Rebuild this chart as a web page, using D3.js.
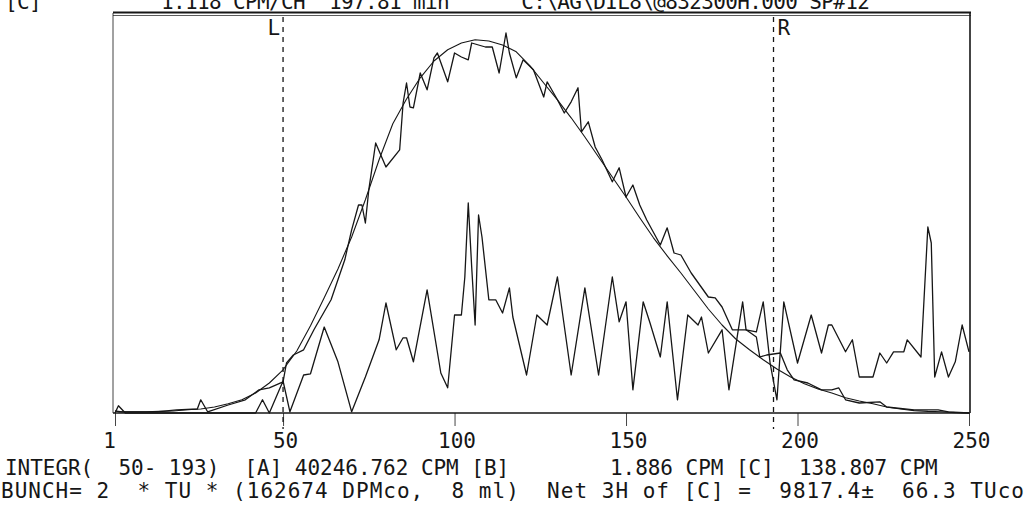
<!DOCTYPE html>
<html><head><meta charset="utf-8">
<script src="https://cdn.jsdelivr.net/npm/d3@7"></script>
<style>html,body{margin:0;padding:0;background:#fff;overflow:hidden}</style>
</head><body><svg id="c" width="1024" height="507"></svg>
<script>
// ---------------- DATA ----------------
const tickChannels = [1, 50, 100, 150, 200, 250];
const tickLabels = ["1", "50", "100", "150", "200", "250"];
const markerChannels = [50, 193];
const markerLabels = ["L", "R"];

const headerText = "[C]          1.118 CPM/CH  197.81 min      C:\\AG\\DIL8\\@832300H.000 SP#12";
const integrText = "INTEGR(  50- 193)  [A] 40246.762 CPM [B]        1.886 CPM [C]  138.807 CPM";
const bunchText  = "BUNCH= 2  * TU * (162674 DPMco,  8 ml)  Net 3H of [C] =  9817.4±  66.3 TUco";

// smooth fitted curve
const fitChannels = [2,6,10,14,18,22,26,30,34,38,42,46,50,54,58,62,66,70,74,78,82,86,90,94,98,102,106,110,114,118,122,126,130,134,138,142,146,150,154,158,162,166,170,174,178,182,186,190,194,198,202,206,210,214,218,222,226,230,234,238,242,246,250];
const fitValues   = [3,3,3,4,5,8,10,15,23,33,50,75,108,155,218,288,360,440,533,633,723,785,838,880,908,925,933,930,920,903,868,825,783,738,690,640,590,540,488,438,393,350,305,260,220,185,158,133,110,90,73,60,50,38,30,23,15,10,6,4,3,1,0];

// measured (noisy) spectrum
const dataChannels = [1,3,13,19,25,26,28,34,36,39,43,46,50,51,53,56,59,64,68,70,72,73,74,75,77,80,84,85,86,87,88,90,92,94,95,98,100,102,104,105,109,111,113,114,115,116,118,120,123,126,127,130,132,134,136,137,139,141,143,146,148,150,152,154,156,160,162,164,166,169,174,176,178,181,185,188,189,191,195,197,199,203,207,210,212,214,218,224,226,234,241,244,250];
const dataValues   = [5,3,3,8,10,33,3,20,25,33,58,63,78,125,145,158,208,283,383,458,520,520,475,558,675,615,658,775,825,765,763,850,808,888,900,828,900,890,883,925,915,915,850,900,950,900,838,883,858,790,828,783,750,778,813,703,728,665,633,578,613,540,570,520,483,420,463,400,395,350,290,288,265,208,208,190,140,145,150,108,83,75,58,58,63,33,25,28,15,8,8,3,0];

// lower fluctuating trace
const lowChannels = [1,2,4,42,44,46,50,52,56,58,62,66,70,74,78,80,83,85,86,88,92,96,98,100,102,103,104,105,106,107,108,110,112,114,116,117,121,124,127,130,134,138,142,146,148,150,152,155,157,160,162,165,168,171,172,174,178,180,184,185,188,190,192,194,196,200,204,207,209,210,214,216,218,222,224,226,228,231,232,236,238,239,240,242,244,246,248,250];
const lowValues   = [0,18,0,0,33,0,80,3,95,98,215,128,3,90,183,275,158,188,188,128,308,100,63,245,245,340,525,365,220,495,440,283,283,250,313,240,95,245,220,340,95,313,95,340,228,278,58,278,225,140,278,33,245,220,240,150,208,58,278,208,203,278,125,33,278,125,245,150,220,220,153,183,90,90,150,125,153,153,183,140,465,425,90,153,90,128,220,153];

// ---------------- DRAW ----------------
const svg = d3.select("#c");
const FONT = "'DejaVu Sans Mono', 'Liberation Mono', monospace";
const INK = "#161616";

const x = d3.scaleLinear().domain([1, 250]).range([115, 969]);
const y = d3.scaleLinear().domain([0, 1000]).range([413, 13]);

const box = {l: 113, r: 970, t: 13, b: 413};

// frame
svg.append("line").attr("x1", box.l).attr("x2", box.r + 1).attr("y1", box.t - 0.5).attr("y2", box.t - 0.5)
  .attr("stroke", INK).attr("stroke-width", 2);
svg.append("line").attr("x1", box.l).attr("x2", box.r + 1).attr("y1", box.t + 2.5).attr("y2", box.t + 2.5)
  .attr("stroke", INK).attr("stroke-width", 1).attr("opacity", 0.7);
svg.append("line").attr("x1", box.l).attr("x2", box.l).attr("y1", box.t).attr("y2", box.b)
  .attr("stroke", INK).attr("stroke-width", 1).attr("opacity", 0.8);
svg.append("line").attr("x1", box.r).attr("x2", box.r).attr("y1", box.t).attr("y2", box.b)
  .attr("stroke", INK).attr("stroke-width", 1.6);
svg.append("line").attr("x1", box.l).attr("x2", box.r).attr("y1", box.b).attr("y2", box.b)
  .attr("stroke", INK).attr("stroke-width", 1.6);

// axis
const axis = d3.axisBottom(x).tickValues(tickChannels)
  .tickFormat((d, i) => tickLabels[i]).tickSize(13).tickSizeOuter(0).tickPadding(7);
const gAx = svg.append("g").attr("transform", `translate(0,${box.b})`).call(axis);
gAx.select(".domain").remove();
gAx.selectAll(".tick line").attr("stroke", INK).attr("stroke-width", 1).attr("opacity", 0.8);
gAx.selectAll(".tick text").attr("font-family", FONT).attr("font-size", 21)
  .attr("fill", INK).attr("dy", "0.71em")
  .attr("dx", (d, i) => i === 0 ? -6 : 2);

// L / R marker lines
markerChannels.forEach((c, i) => {
  svg.append("line").attr("x1", x(c)).attr("x2", x(c)).attr("y1", box.t + 4).attr("y2", box.b + 16)
    .attr("stroke", INK).attr("stroke-width", 1.3).attr("stroke-dasharray", "5,5");
  svg.append("text").attr("x", i === 0 ? x(c) - 3 : x(c) + 4).attr("y", 35)
    .attr("text-anchor", i === 0 ? "end" : "start")
    .attr("font-family", FONT).attr("font-size", 21).attr("fill", INK).text(markerLabels[i]);
});

// series
function series(ch, vals, w) {
  const pts = ch.map((c, i) => [c, vals[i]]);
  svg.append("path").datum(pts)
    .attr("d", d3.line().x(d => x(d[0])).y(d => y(d[1])))
    .attr("fill", "none").attr("stroke", INK).attr("stroke-width", w)
    .attr("stroke-linejoin", "round");
}
series(fitChannels, fitValues, 1.1);
series(dataChannels, dataValues, 1.3);
series(lowChannels, lowValues, 1.3);

// text lines
function textLine(str, x0, yb, adv) {
  svg.append("text").attr("x", x0).attr("y", yb)
    .attr("font-family", FONT).attr("font-size", 21).attr("fill", INK)
    .attr("letter-spacing", (adv - 0.602 * 21).toFixed(2))
    .style("white-space", "pre").text(str);
}
textLine(headerText, 5, 9, 12);
textLine(integrText, 5, 475, 12.6);
textLine(bunchText, 1, 498, 13.65);
</script></body></html>
